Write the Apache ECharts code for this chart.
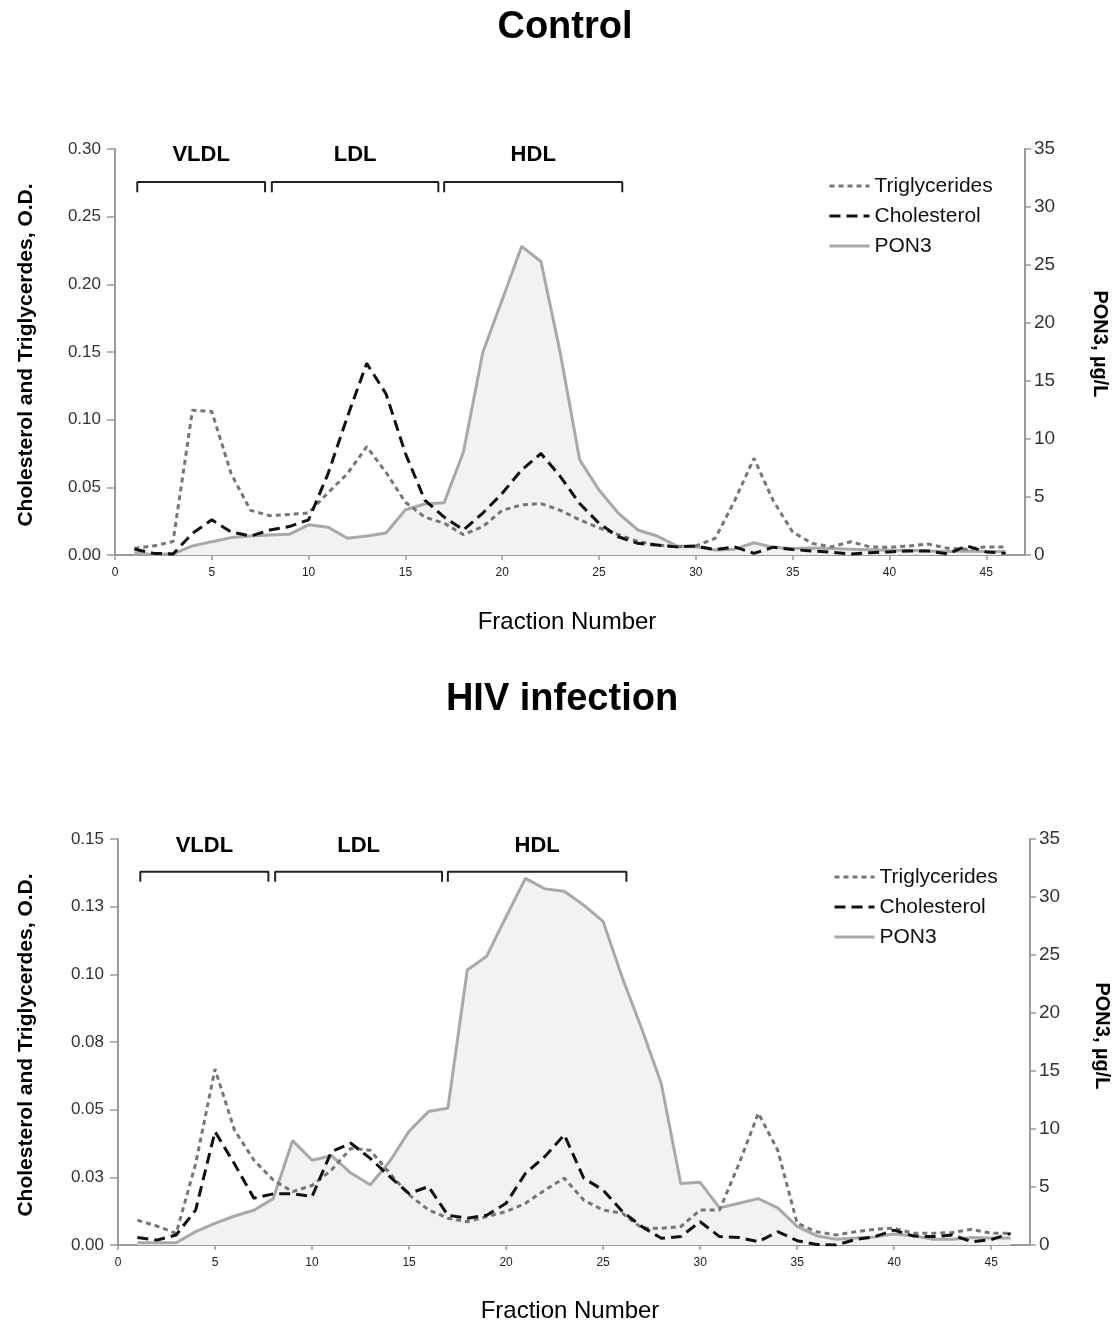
<!DOCTYPE html>
<html><head><meta charset="utf-8">
<script src="https://cdn.jsdelivr.net/npm/echarts@6/dist/echarts.min.js"></script>
<style>html,body{margin:0;padding:0;background:#fff}#c{width:1115px;height:1323px}</style>
</head><body><div id="c"></div>
<script>
// ---------------- data ----------------
const fractions = [1,2,3,4,5,6,7,8,9,10,11,12,13,14,15,16,17,18,19,20,21,22,23,24,25,26,27,28,29,30,31,32,33,34,35,36,37,38,39,40,41,42,43,44,45,46];

const ctrlTrig = [0.005,0.0067,0.010,0.107,0.106,0.060,0.033,0.029,0.030,0.031,0.046,0.060,0.080,0.061,0.039,0.028,0.0235,0.015,0.021,0.033,0.037,0.038,0.033,0.026,0.020,0.015,0.010,0.0074,0.006,0.0067,0.0123,0.040,0.0714,0.040,0.017,0.0086,0.006,0.0098,0.006,0.0057,0.0066,0.0081,0.005,0.0042,0.006,0.006];
const ctrlChol = [0.0042,0.0012,0.0008,0.016,0.026,0.017,0.014,0.0185,0.021,0.026,0.060,0.102,0.1416,0.119,0.075,0.0406,0.028,0.0185,0.031,0.0456,0.0628,0.075,0.058,0.038,0.0234,0.0135,0.0086,0.0074,0.006,0.0067,0.004,0.006,0.0012,0.0058,0.004,0.003,0.002,0.0007,0.0017,0.0023,0.003,0.003,0.0008,0.0067,0.0023,0.0012];
const ctrlPON3 = [0.15,0.05,0.1,0.78,1.15,1.5,1.64,1.72,1.78,2.6,2.4,1.44,1.64,1.9,3.9,4.4,4.5,8.9,17.5,22,26.6,25.3,17.4,8.2,5.6,3.6,2.16,1.64,0.78,0.72,0.43,0.5,1.06,0.66,0.57,0.6,0.55,0.5,0.45,0.4,0.4,0.35,0.3,0.35,0.3,0.3];

const hivTrig = [0.0092,0.007,0.0043,0.030,0.065,0.0425,0.0314,0.024,0.0197,0.022,0.0277,0.0357,0.035,0.0265,0.0185,0.013,0.0099,0.0086,0.0105,0.0123,0.0154,0.0203,0.0247,0.0166,0.0129,0.0117,0.0062,0.0062,0.0068,0.0129,0.0129,0.030,0.0487,0.035,0.008,0.0049,0.0037,0.0049,0.0058,0.0062,0.0043,0.0043,0.0046,0.0058,0.0043,0.0043];
const hivChol = [0.0028,0.0018,0.0037,0.0129,0.0419,0.030,0.0173,0.0189,0.0189,0.0179,0.0345,0.0376,0.032,0.0253,0.019,0.0216,0.011,0.0099,0.011,0.0154,0.0265,0.0327,0.0407,0.0247,0.0203,0.0123,0.0068,0.0025,0.0031,0.0086,0.0031,0.0028,0.0012,0.0049,0.0016,0.0002,0,0.002,0.0031,0.0055,0.0033,0.0031,0.0037,0.0012,0.002,0.0043];
const hivPON3 = [0.2,0.2,0.2,1.15,1.87,2.5,3.0,4.0,9.0,7.3,7.7,6.2,5.2,7.2,9.8,11.5,11.8,23.7,24.9,28.3,31.6,30.7,30.5,29.3,27.9,23.0,18.6,13.9,5.3,5.4,3.2,3.6,4.0,3.2,1.6,0.8,0.5,0.6,0.7,0.95,0.8,0.5,0.5,0.65,0.6,0.6];

const seriesNames = ['Triglycerides','Cholesterol','PON3'];
const bracketNames = ['VLDL','LDL','HDL'];
const bracketStart = [1.15, 8.1, 17.0];
const bracketEnd   = [7.75, 16.7, 26.2];

const ctrlLeftTicks  = ['0.00','0.05','0.10','0.15','0.20','0.25','0.30'];
const hivLeftTicks   = ['0.00','0.03','0.05','0.08','0.10','0.13','0.15'];
const rightTicks     = ['0','5','10','15','20','25','30','35'];
const xTicks         = ['0','5','10','15','20','25','30','35','40','45'];

// ---------------- styles ----------------
const FONT = '"Liberation Sans", Arial, Helvetica, sans-serif';
const AX = '#9a9a9a';
const pair = arr => arr.map((v, i) => [fractions[i], v]);

function xAxisFor(g) {
  return {
    gridIndex: g, type: 'value', min: 0, max: 47, interval: 5,
    axisLine: { show: true, onZero: false, lineStyle: { color: AX, width: 2 } },
    axisTick: { show: true, length: 5, lineStyle: { color: AX, width: 1.5 } },
    axisLabel: { fontSize: 12, color: '#222', fontFamily: FONT, margin: 12, showMaxLabel: false,
      formatter: v => { const i = Math.round(v / 5); return (Math.abs(v - i * 5) < 1e-6 && xTicks[i] !== undefined) ? xTicks[i] : ''; } },
    splitLine: { show: false }
  };
}
function leftAxisFor(g, max, step, labels) {
  return {
    gridIndex: g, type: 'value', min: 0, max: max, interval: step, position: 'left',
    axisLine: { show: true, lineStyle: { color: AX, width: 2 } },
    axisTick: { show: true, length: 8, lineStyle: { color: AX, width: 1.5 } },
    axisLabel: { fontSize: 17, color: '#333', fontFamily: FONT, margin: 14,
      formatter: v => labels[Math.round(v / step)] },
    splitLine: { show: false }
  };
}
function rightAxisFor(g) {
  return {
    gridIndex: g, type: 'value', min: 0, max: 35, interval: 5, position: 'right',
    axisLine: { show: true, lineStyle: { color: AX, width: 2 } },
    axisTick: { show: true, length: 6, lineStyle: { color: AX, width: 1.5 } },
    axisLabel: { fontSize: 19, color: '#333', fontFamily: FONT, margin: 9,
      formatter: v => rightTicks[Math.round(v / 5)] },
    splitLine: { show: false }
  };
}

function panelSeries(g, trig, chol, pon, brY, brDrop, lblY) {
  const xi = g, yl = g * 2, yr = g * 2 + 1;
  const out = [
    { name: seriesNames[2], type: 'line', xAxisIndex: xi, yAxisIndex: yr, data: pair(pon),
      symbol: 'none', silent: true, z: 1,
      lineStyle: { color: '#a9a9a9', width: 3 },
      itemStyle: { color: '#a9a9a9' },
      areaStyle: { color: '#f2f2f2', opacity: 1 } },
    { name: seriesNames[0], type: 'line', xAxisIndex: xi, yAxisIndex: yl, data: pair(trig),
      symbol: 'none', silent: true, z: 3,
      lineStyle: { color: '#767676', width: 3, type: [5, 4] },
      itemStyle: { color: '#767676' } },
    { name: seriesNames[1], type: 'line', xAxisIndex: xi, yAxisIndex: yl, data: pair(chol),
      symbol: 'none', silent: true, z: 4,
      lineStyle: { color: '#111', width: 3, type: [11, 6] },
      itemStyle: { color: '#111' } }
  ];
  bracketNames.forEach((nm, i) => {
    out.push({ type: 'line', xAxisIndex: xi, yAxisIndex: yl, symbol: 'none', silent: true, z: 5,
      lineStyle: { color: '#222', width: 2 },
      data: [[bracketStart[i], brDrop], [bracketStart[i], brY], [bracketEnd[i], brY], [bracketEnd[i], brDrop]] });
  });
  out.push({ type: 'scatter', xAxisIndex: xi, yAxisIndex: yl, symbolSize: 0, silent: true, z: 5,
    itemStyle: { opacity: 1, color: '#000' },
    data: bracketNames.map((nm, i) => ({ value: [(bracketStart[i] + bracketEnd[i]) / 2, lblY], name: nm })),
    label: { show: true, position: 'inside', formatter: p => p.name,
      fontSize: 22, fontWeight: 'bold', color: '#000', opacity: 1, textBorderWidth: 0, textBorderColor: 'transparent',
      fontFamily: FONT } });
  return out;
}

function legendFor(top, left) {
  return {
    orient: 'vertical', top: top, left: left, itemWidth: 40, itemHeight: 14, itemGap: 8,
    data: seriesNames, selectedMode: false,
    itemStyle: { opacity: 0 },
    lineStyle: { width: 3 },
    textStyle: { fontSize: 21, color: '#111', fontFamily: FONT, lineHeight: 22 }
  };
}

function txt(text, x, y, size, weight, rot) {
  return { type: 'text', x: x, y: y, rotation: rot || 0, silent: true,
    style: { text: text, font: weight + ' ' + size + 'px ' + FONT, fill: '#000',
      textAlign: 'center', textVerticalAlign: 'middle' } };
}

const option = {
  animation: false,
  backgroundColor: '#fff',
  grid: [
    { left: 115, top: 149, width: 910, height: 406 },
    { left: 118, top: 839, width: 912, height: 406 }
  ],
  xAxis: [xAxisFor(0), xAxisFor(1)],
  yAxis: [
    leftAxisFor(0, 0.30, 0.05, ctrlLeftTicks), rightAxisFor(0),
    leftAxisFor(1, 0.15, 0.025, hivLeftTicks), rightAxisFor(1)
  ],
  legend: [legendFor(170, 823), legendFor(861, 828)],
  series: [].concat(
    panelSeries(0, ctrlTrig, ctrlChol, ctrlPON3, 0.2756, 0.268, 0.2956),
    panelSeries(1, hivTrig, hivChol, hivPON3, 0.1379, 0.1342, 0.1475)
  ),
  graphic: [
    txt('Control', 565, 28, 38, 'bold'),
    txt('HIV infection', 562, 700, 38, 'bold'),
    txt('Fraction Number', 567, 622, 24, 'normal'),
    txt('Fraction Number', 570, 1311, 24, 'normal'),
    txt('Cholesterol and Triglycerdes, O.D.', 26, 355, 21, 'bold', Math.PI / 2),
    txt('Cholesterol and Triglycerdes, O.D.', 26, 1045, 21, 'bold', Math.PI / 2),
    txt('PON3, µg/L', 1100, 344, 20, 'bold', -Math.PI / 2),
    txt('PON3, µg/L', 1102, 1036, 20, 'bold', -Math.PI / 2)
  ]
};

const chart = echarts.init(document.getElementById('c'), null, { renderer: 'canvas' });
chart.setOption(option);
</script>
</body></html>
